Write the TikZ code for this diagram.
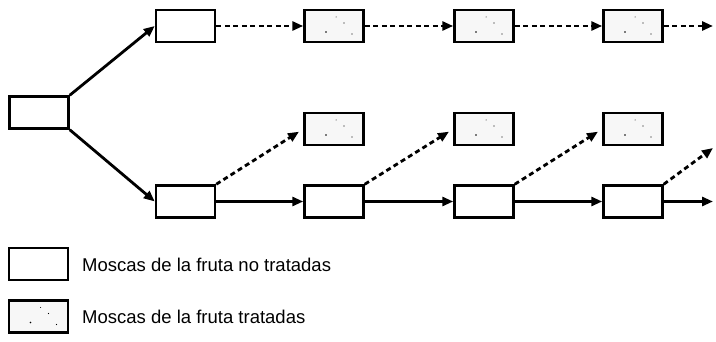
\documentclass[tikz,border=0pt]{standalone}
\usepackage{fontspec}
\setmainfont{Liberation Sans}
\usetikzlibrary{arrows.meta}
\tikzset{
  box/.style={draw=black, line width=2.5pt, fill=white, rectangle, minimum width=59pt, minimum height=32pt, inner sep=0pt},
  treated/.style={box, fill=black!3, path picture={
      \fill[black] ([shift={(-8pt,-6pt)}]path picture bounding box.center) circle (0.8pt);
      \fill[black] ([shift={(10pt,3pt)}]path picture bounding box.center) circle (0.7pt);
      \fill[black] ([shift={(18pt,-8pt)}]path picture bounding box.center) circle (0.6pt);
      \fill[black] ([shift={(2pt,9pt)}]path picture bounding box.center) circle (0.5pt);
  }},
  arr/.style={line width=2.8pt, -{Triangle[length=11pt,width=9pt]}},
  darr/.style={arr, dash pattern=on 5pt off 3.5pt},
  lbl/.style={anchor=west, font=\fontsize{18.5pt}{20pt}\selectfont, inner sep=0pt}
}
\begin{document}
\begin{tikzpicture}[x=1pt,y=-1pt]
\useasboundingbox (0,0) rectangle (716,342);
\node[box] (L) at (39,112.5) {};
\node[box] (T1) at (185.5,26) {};
\node[treated] (T2) at (334,26) {};
\node[treated] (T3) at (484,26) {};
\node[treated] (T4) at (633,26) {};
\node[treated] (M2) at (334,129) {};
\node[treated] (M3) at (484,129) {};
\node[treated] (M4) at (633,129) {};
\node[box] (B1) at (185.5,201.5) {};
\node[box] (B2) at (334,201.5) {};
\node[box] (B3) at (484,201.5) {};
\node[box] (B4) at (633,201.5) {};
\coordinate (Tend) at (713,26);
\coordinate (Bend) at (713,201.5);
\coordinate (Dend) at (713,148);
\draw[arr] (L.north east) -- (T1.west);
\draw[arr] (L.south east) -- (B1.west);
\draw[darr] (T1.east) -- (T2.west);
\draw[darr] (T2.east) -- (T3.west);
\draw[darr] (T3.east) -- (T4.west);
\draw[darr] (T4.east) -- (Tend);
\draw[arr] (B1.east) -- (B2.west);
\draw[arr] (B2.east) -- (B3.west);
\draw[arr] (B3.east) -- (B4.west);
\draw[arr] (B4.east) -- (Bend);
\draw[darr, shorten >=5pt] (B1.north east) -- (M2.west);
\draw[darr, shorten >=5pt] (B2.north east) -- (M3.west);
\draw[darr, shorten >=5pt] (B3.north east) -- (M4.west);
\draw[darr] (B4.north east) -- (Dend);
\node[box] (K1) at (38.5,264) {};
\node[treated] (K2) at (38.5,316.5) {};
\node[lbl] (K1t) at (82,265) {Moscas de la fruta no tratadas};
\node[lbl] (K2t) at (82,317) {Moscas de la fruta tratadas};
\end{tikzpicture}
\end{document}
